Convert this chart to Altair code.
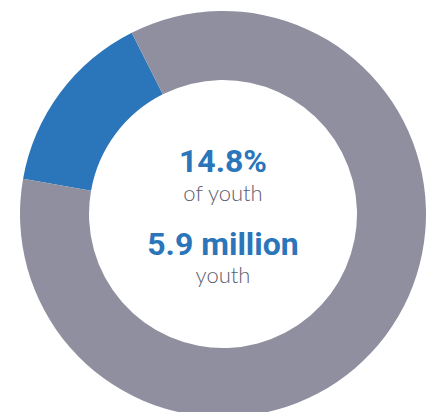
import altair as alt
import pandas as pd

# Data
segments = ["Youth (highlighted)", "Other"]
arc_shares = [14.8, 85.2]
segment_colors = ["#2B75BA", "#8F8FA0"]
headline_values = ["14.8%", "5.9 million"]
headline_captions = ["of youth", "youth"]

df = pd.DataFrame({"segment": segments, "share": arc_shares, "order": [0, 1]})

start = 4.887  # radians, clockwise from 12 o'clock (about 280 degrees)
arc = alt.Chart(df).mark_arc(innerRadius=134, outerRadius=203, stroke=None).encode(
    theta=alt.Theta("share:Q", stack=True, scale=alt.Scale(range=[start, start + 6.283185307])),
    order=alt.Order("order:Q"),
    color=alt.Color("segment:N", scale=alt.Scale(domain=segments, range=segment_colors), legend=None),
    x=alt.value(215),
    y=alt.value(206),
)


def text_layer(txt, ypos, big):
    d = pd.DataFrame({"t": [txt]})
    if big:
        m = alt.Chart(d).mark_text(
            font="Roboto, Liberation Sans Narrow, sans-serif", fontWeight="bold", fontSize=32,
            color="#2B75BA", baseline="alphabetic", align="center")
    else:
        m = alt.Chart(d).mark_text(
            font="Lato, Open Sans, sans-serif", fontWeight=300, fontSize=22,
            color="#5E5E72", baseline="alphabetic", align="center")
    return m.encode(text="t:N", x=alt.value(215), y=alt.value(ypos))


layers = [
    arc,
    text_layer(headline_values[0], 164, True),
    text_layer(headline_captions[0], 193, False),
    text_layer(headline_values[1], 247, True),
    text_layer(headline_captions[1], 275, False),
]

chart = alt.layer(*layers).properties(
    width=418, height=404, padding=0, autosize=alt.AutoSizeParams(type="none")
).configure_view(stroke=None)

chart.save("out.html", embed_options={"renderer": "svg", "actions": False})
